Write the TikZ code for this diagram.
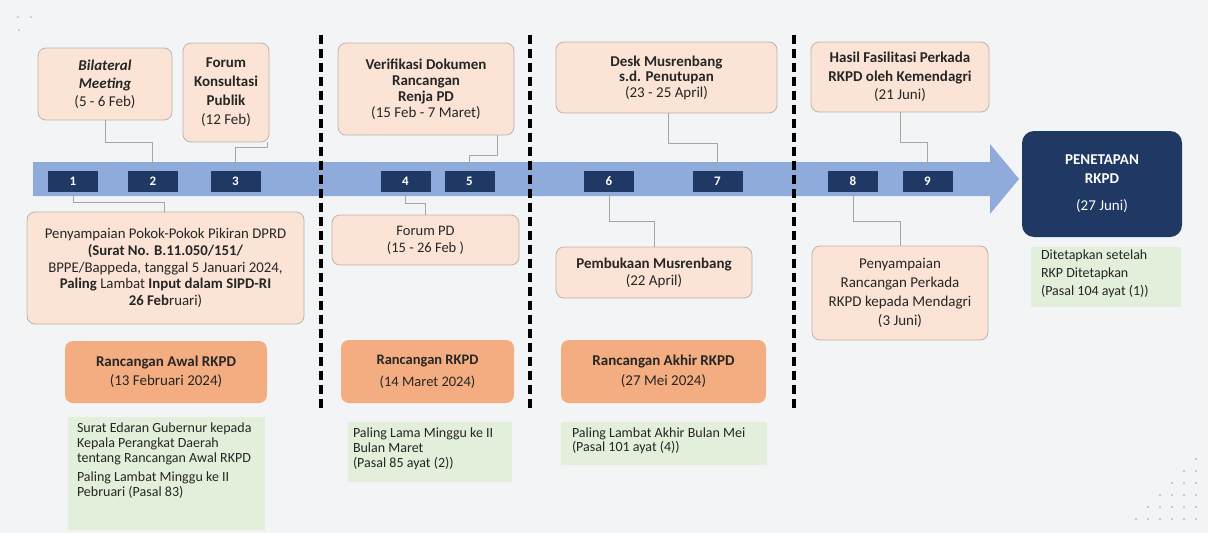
\documentclass[tikz,border=0pt]{standalone}
\usepackage{fontspec}
\setmainfont{Carlito}
\definecolor{bgc}{HTML}{F3F4F6}
\definecolor{peachc}{HTML}{FBE4D6}
\definecolor{bordc}{HTML}{BFB3AA}
\definecolor{orc}{HTML}{F3AD80}
\definecolor{greenc}{HTML}{E2EFDA}
\definecolor{navy}{HTML}{1F3864}
\definecolor{bandc}{HTML}{8FABDC}
\definecolor{connc}{HTML}{A6A6A6}
\definecolor{txt}{HTML}{262626}
\definecolor{dotc}{HTML}{B8BCC4}
\begin{document}
\begin{tikzpicture}[x=1pt,y=-1pt,
  peach/.style={draw=bordc, fill=peachc, rounded corners=8pt, line width=0.8pt, align=center, text=txt, inner sep=2pt, font=\fontsize{15}{16}\selectfont},
  orangebox/.style={fill=orc, rounded corners=8pt, align=center, text=txt, inner sep=2pt},
  numbox/.style={fill=navy, text=white, font=\bfseries\fontsize{13}{13}\selectfont, minimum width=50pt, minimum height=21pt, inner sep=0pt},
  conn/.style={draw=connc, line width=0.8pt},
  sepline/.style={line width=4pt, dash pattern=on 9pt off 5pt},
  gnote/.style={fill=greenc, inner sep=0pt},
  gtext/.style={align=left, text=txt, inner sep=0pt, anchor=north west},
  deco/.style={fill=dotc}
]
\useasboundingbox (0,0) rectangle (1208,533);
\fill[bgc] (0,0) rectangle (1208,533);

% faint decorative dots
\foreach \p in {(18,17),(31,17),(19,30)} \fill[deco] \p circle (1pt);
\foreach \r in {0,...,5}{
  \foreach \c in {0,...,\r}{
    \fill[deco] ({1196-12*\c},{459+12*\r}) circle (1.1pt);
  }
}

% timeline arrow
\fill[bandc] (33,162) -- (990,162) -- (990,144) -- (1019,179) -- (990,214) -- (990,196) -- (33,196) -- cycle;

% separators
\coordinate (s1t) at (321,35); \coordinate (s1b) at (321,410);
\coordinate (s2t) at (530,35); \coordinate (s2b) at (530,410);
\coordinate (s3t) at (794,35); \coordinate (s3b) at (794,410);
\draw[sepline] (s1t) -- (s1b);
\draw[sepline] (s2t) -- (s2b);
\draw[sepline] (s3t) -- (s3b);

% number boxes
\node[numbox] (n1) at (73,181.5) {1};
\node[numbox] (n2) at (153,181.5) {2};
\node[numbox] (n3) at (235.5,181.5) {3};
\node[numbox] (n4) at (405.5,181.5) {4};
\node[numbox] (n5) at (469.5,181.5) {5};
\node[numbox] (n6) at (609,181.5) {6};
\node[numbox] (n7) at (717.5,181.5) {7};
\node[numbox] (n8) at (853,181.5) {8};
\node[numbox] (n9) at (927.5,181.5) {9};

% top boxes
\node[peach, minimum width=134pt, minimum height=72pt, font=\fontsize{15}{18}\selectfont] (bil) at (105,84)
  {\textbf{\itshape Bilateral}\\\textbf{\itshape Meeting}\\(5 - 6 Feb)};
\node[peach, minimum width=86pt, minimum height=99pt, font=\fontsize{15}{19}\selectfont] (fkp) at (226,92.5)
  {\textbf{Forum}\\\textbf{Konsultasi}\\\textbf{Publik}\\(12 Feb)};
\node[peach, minimum width=176pt, minimum height=92pt] (ver) at (426,89)
  {\textbf{Verifikasi Dokumen}\\\textbf{Rancangan}\\\textbf{Renja PD}\\(15 Feb - 7 Maret)};
\node[peach, minimum width=221pt, minimum height=71pt, font=\fontsize{15}{15.5}\selectfont] (desk) at (666.5,77.5)
  {\textbf{Desk Musrenbang}\\\textbf{s.d. Penutupan}\\(23 - 25 April)};
\node[peach, minimum width=178pt, minimum height=70pt, font=\fontsize{15}{18.5}\selectfont] (hasil) at (900,77)
  {\textbf{Hasil Fasilitasi Perkada}\\\textbf{RKPD oleh Kemendagri}\\(21 Juni)};

% bottom boxes
\node[peach, minimum width=277pt, minimum height=112pt, font=\fontsize{14.8}{16.7}\selectfont] (pokok) at (165.5,268)
  {Penyampaian Pokok-Pokok Pikiran DPRD\\\textbf{(Surat No. B.11.050/151/}\\BPPE/Bappeda, tanggal 5 Januari 2024,\\\textbf{Paling} Lambat \textbf{Input dalam SIPD-RI}\\\textbf{26 Feb}ruari)};
\node[peach, minimum width=187pt, minimum height=50pt, font=\fontsize{14.5}{17}\selectfont] (fpd) at (425.5,240)
  {Forum PD\\(15 - 26 Feb )};
\node[peach, minimum width=196pt, minimum height=51pt, font=\fontsize{15}{17}\selectfont] (pemb) at (654,272.5)
  {\textbf{Pembukaan Musrenbang}\\(22 April)};
\node[peach, minimum width=176pt, minimum height=94pt, font=\fontsize{15}{19}\selectfont] (peny) at (900,293)
  {Penyampaian\\Rancangan Perkada\\RKPD kepada Mendagri\\(3 Juni)};

% final box
\node[fill=navy, rounded corners=12pt, minimum width=160pt, minimum height=106pt, text=white, align=center, inner sep=2pt, font=\fontsize{15}{19}\selectfont] (pen) at (1102,184)
  {\textbf{PENETAPAN}\\\textbf{RKPD}\\[8pt](27 Juni)};
\node[gnote, minimum width=150pt, minimum height=60pt] (g4) at (1106,277) {};
\node[gtext, font=\fontsize{14}{18}\selectfont] (g4t) at ([xshift=10pt,yshift=-3pt]g4.north west)
  {Ditetapkan setelah\\RKP Ditetapkan\\(Pasal 104 ayat (1))};

% orange milestone boxes
\node[orangebox, minimum width=202pt, minimum height=62pt, font=\fontsize{15}{19}\selectfont] (ra) at (166,372)
  {\textbf{Rancangan Awal RKPD}\\(13 Februari 2024)};
\node[orangebox, minimum width=173pt, minimum height=63pt, font=\fontsize{14.5}{22}\selectfont] (rr) at (427.5,371.5)
  {\textbf{Rancangan RKPD}\\(14 Maret 2024)};
\node[orangebox, minimum width=205pt, minimum height=63pt, font=\fontsize{15}{20}\selectfont] (rak) at (663.5,371.5)
  {\textbf{Rancangan Akhir RKPD}\\(27 Mei 2024)};

% green notes
\node[gnote, minimum width=197pt, minimum height=113pt] (g1) at (166.5,473.5) {};
\node[gtext, font=\fontsize{14}{15}\selectfont] (g1t) at ([xshift=9pt,yshift=-6pt]g1.north west)
  {Surat Edaran Gubernur kepada\\Kepala Perangkat Daerah\\tentang Rancangan Awal RKPD\\[4pt]Paling Lambat Minggu ke II\\Pebruari (Pasal 83)};
\node[gnote, minimum width=164pt, minimum height=60pt] (g2) at (430,452) {};
\node[gtext, font=\fontsize{14}{15}\selectfont] (g2t) at ([xshift=5pt,yshift=-6pt]g2.north west)
  {Paling Lama Minggu ke II\\Bulan Maret\\(Pasal 85 ayat (2))};
\node[gnote, minimum width=206pt, minimum height=43pt] (g3) at (664,443.5) {};
\node[gtext, font=\fontsize{14}{14}\selectfont] (g3t) at ([xshift=11pt,yshift=-6pt]g3.north west)
  {Paling Lambat Akhir Bulan Mei\\(Pasal 101 ayat (4))};

% connectors
\draw[conn] (n1.south) -- (73,202) -| (pokok.north -| 164,0);
\draw[conn] (bil.south) -- (105,142) -| (n2.north -| 152,0);
\draw[conn] (fkp.south -| 267,0) -- (267,147) -| (n3.north);
\draw[conn] (ver.south -| 497,0) -- (497,155) -| (n5.north);
\draw[conn] (n4.south) -- (405.5,203) -| (fpd.north);
\draw[conn] (desk.south -| 668,0) -- (668,143) -| (n7.north);
\draw[conn] (n6.south) -- (609,221) -| (pemb.north);
\draw[conn] (hasil.south) -- (900,142) -| (n9.north);
\draw[conn] (n8.south) -- (853,221) -| (peny.north);
\end{tikzpicture}
\end{document}
